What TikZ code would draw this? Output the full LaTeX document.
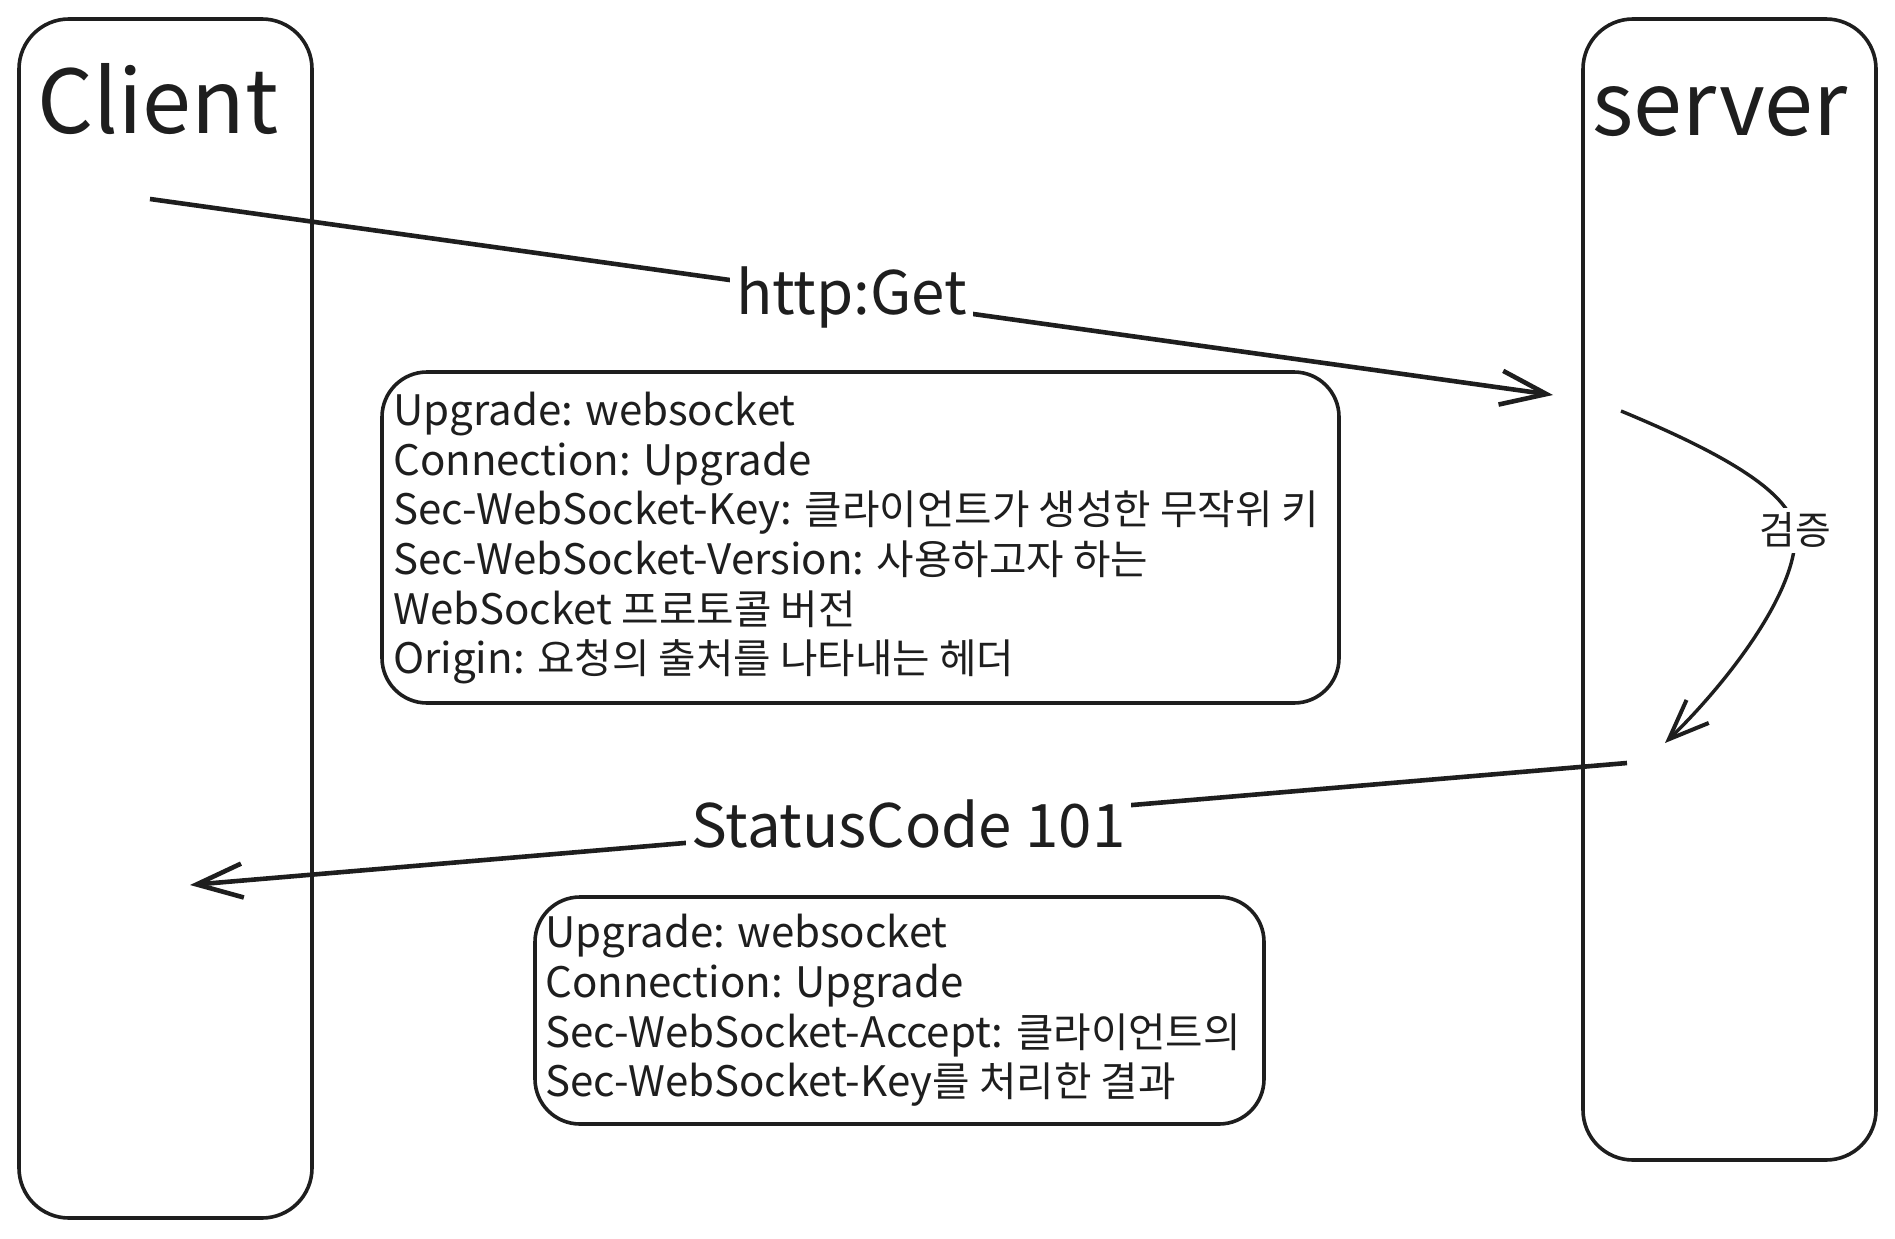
\documentclass[tikz,border=0pt]{standalone}
\usepackage{fontspec}
\setmainfont{Noto Sans CJK KR}
\newfontfamily\kr{Noto Sans CJK KR}[Scale=0.97]
\usetikzlibrary{arrows.meta}
\definecolor{ink}{RGB}{30,30,30}
\tikzset{
  lane/.style={draw=ink, line width=3.6pt, rounded corners=50pt, inner sep=0pt},
  hdrbox/.style={draw=ink, line width=3.6pt, rounded corners=45pt, inner sep=0pt},
  titletext/.style={font=\fontsize{88}{100}\selectfont, text=ink, inner sep=0pt, anchor=base},
  msg/.style={draw=ink, line width=4.6pt, -{Straight Barb[length=46pt,width=34pt,line width=4.6pt]}},
  msglabel/.style={fill=white, text=ink, font=\fontsize{60}{70}\selectfont, inner sep=6pt},
  hdrline/.style={font=\fontsize{42}{50}\selectfont, text=ink, inner sep=0pt, anchor=base west},
  verify/.style={draw=ink, line width=3.4pt, -{Straight Barb[length=40pt,width=32pt,line width=4pt]}},
  veriflabel/.style={fill=white, text=ink, inner sep=5pt, font=\kr\fontsize{40}{46}\selectfont},
}
\begin{document}
\begin{tikzpicture}[x=1pt,y=-1pt]
\useasboundingbox (0,0) rectangle (1895,1239);
% lanes
\node[lane, minimum width=293pt, minimum height=1199pt] (client) at (165.5,618.5) {};
\node[lane, minimum width=293pt, minimum height=1141pt] (server) at (1729.5,589.5) {};
\node[titletext] (clienttitle) at (158,133) {Client};
\node[titletext] (servertitle) at (1720,135) {server};
% request arrow
\coordinate (reqs) at (150,199);
\coordinate (reqe) at (1553,395);
\draw[msg] (reqs) -- (reqe) node[msglabel, pos=0.5] (reqlabel) {http:Get};
% request header box
\node[hdrbox, minimum width=957pt, minimum height=331pt] (reqbox) at (860.5,537.5) {};
\node[hdrline] (q1) at (393,425) {Upgrade: websocket};
\node[hdrline] (q2) at (393,475) {Connection: Upgrade};
\node[hdrline] (q3) at (393,524) {Sec-WebSocket-Key: {\kr 클라이언트가 생성한 무작위 키}};
\node[hdrline] (q4) at (393,574) {Sec-WebSocket-Version: {\kr 사용하고자 하는}};
\node[hdrline] (q5) at (393,624) {WebSocket {\kr 프로토콜 버전}};
\node[hdrline] (q6) at (393,673) {Origin: {\kr 요청의 출처를 나타내는 헤더}};
% verification curve
\coordinate (vs) at (1621,411);
\coordinate (ve) at (1665,743);
\draw[verify] (vs) .. controls (1715,450) and (1790,490) .. (1795,530)
  node[veriflabel] (verif) {검증}
  .. controls (1800,590) and (1725,685) .. (ve);
% response arrow
\coordinate (ress) at (1627,763);
\coordinate (rese) at (190,885);
\draw[msg] (ress) -- (rese) node[msglabel, pos=0.5] (reslabel) {StatusCode 101};
% response header box
\node[hdrbox, minimum width=729pt, minimum height=227pt] (resbox) at (899.5,1010.5) {};
\node[hdrline] (r1) at (545,947) {Upgrade: websocket};
\node[hdrline] (r2) at (545,997) {Connection: Upgrade};
\node[hdrline] (r3) at (545,1047) {Sec-WebSocket-Accept: {\kr 클라이언트의}};
\node[hdrline] (r4) at (545,1096) {Sec-WebSocket-Key{\kr 를 처리한 결과}};
\end{tikzpicture}
\end{document}
